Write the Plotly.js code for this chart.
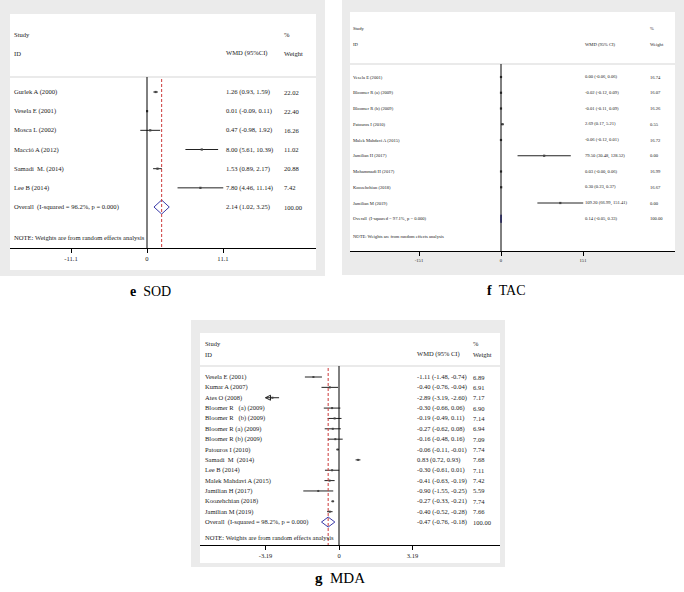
<!DOCTYPE html>
<html><head><meta charset="utf-8">
<script src="https://cdn.plot.ly/plotly-3.0.1.min.js"></script>
<style>html,body{margin:0;padding:0;background:#fff}#chart{width:684px;height:592px}</style>
</head><body><div id="chart"></div>
<script>
// ---------- DATA ----------
// e SOD
const sodStudies = ["Gurlek A (2000)", "Vesela E (2001)", "Mosca L (2002)", "Macció A (2012)", "Samadi  M. (2014)", "Lee B (2014)"];
const sodEst = [1.26, 0.01, 0.47, 8.00, 1.53, 7.80];
const sodLo = [0.93, -0.09, -0.98, 5.61, 0.89, 4.46];
const sodHi = [1.59, 0.11, 1.92, 10.39, 2.17, 11.14];
const sodWeight = ["22.02", "22.40", "16.26", "11.02", "20.88", "7.42"];
const sodOverallLabel = "Overall  (I-squared = 96.2%, p = 0.000)";
const sodOverall = [2.14, 1.02, 3.25];
const sodOverallWeight = "100.00";
const sodTicks = [-11.1, 0, 11.1];
const sodTickLabels = ["-11.1", "0", "11.1"];

// f TAC
const tacStudies = ["Vesela E (2001)", "Bloomer R (a) (2009)", "Bloomer R (b) (2009)", "Patouros I (2010)", "Malek Mahdavi A (2015)", "Jamilian H (2017)", "Mohammadi H (2017)", "Koozehchian (2018)", "Jamilian M (2019)"];
const tacEst = [0.00, -0.02, -0.01, 2.69, -0.06, 79.50, 0.03, 0.30, 109.20];
const tacLo = [-0.06, -0.12, -0.11, 0.17, -0.12, 30.48, -0, 0.23, 66.99];
const tacHi = [0.06, 0.09, 0.09, 5.21, 0.01, 128.52, 0.06, 0.37, 151.41];
const tacWeight = ["16.74", "16.07", "16.26", "0.55", "16.72", "0.00", "16.99", "16.67", "0.00"];
const tacOverallLabel = "Overall  (I-squared = 97.1%, p = 0.000)";
const tacOverall = [0.14, -0.05, 0.33];
const tacOverallWeight = "100.00";
const tacTicks = [-151, 0, 151];
const tacTickLabels = ["-151", "0", "151"];

// g MDA
const mdaStudies = ["Vesela E (2001)", "Kumar A (2007)", "Ates O (2008)", "Bloomer R\u00a0\u00a0\u00a0(a) (2009)", "Bloomer R\u00a0\u00a0\u00a0(b) (2009)", "Bloomer R (a) (2009)", "Bloomer R (b) (2009)", "Patouros I (2010)", "Samadi\u00a0\u00a0M\u00a0\u00a0(2014)", "Lee B (2014)", "Malek Mahdavi A (2015)", "Jamilian H (2017)", "Koozehchian (2018)", "Jamilian M (2019)"];
const mdaEst = [-1.11, -0.40, -2.89, -0.30, -0.19, -0.27, -0.16, -0.06, 0.83, -0.30, -0.41, -0.90, -0.27, -0.40];
const mdaLo = [-1.48, -0.76, -3.19, -0.66, -0.49, -0.62, -0.48, -0.11, 0.72, -0.61, -0.63, -1.55, -0.33, -0.52];
const mdaHi = [-0.74, -0.04, -2.60, 0.06, 0.11, 0.08, 0.16, -0.01, 0.93, 0.01, -0.19, -0.25, -0.21, -0.28];
const mdaWeight = ["6.89", "6.91", "7.17", "6.90", "7.14", "6.94", "7.09", "7.74", "7.68", "7.11", "7.42", "5.59", "7.74", "7.66"];
const mdaOverallLabel = "Overall  (I-squared = 98.2%, p = 0.000)";
const mdaOverall = [-0.47, -0.76, -0.18];
const mdaOverallWeight = "100.00";
const mdaTicks = [-3.19, 0, 3.19];
const mdaTickLabels = ["-3.19", "0", "3.19"];

// ---------- LAYOUT HELPERS ----------
const W = 684, H = 592;
const px = x => x / W;
const py = y => 1 - y / H;
const fmt = v => ((v < 0 || Object.is(v, -0)) ? "-" : "") + Math.abs(v).toFixed(2);
const FONT = "Liberation Serif, Times New Roman, serif";
const TXT = "#1a1a1a";

const panels = [
  {ax: "", letter: "e", name: "SOD", studies: sodStudies, est: sodEst, lo: sodLo, hi: sodHi, wt: sodWeight,
   ovLabel: sodOverallLabel, ov: sodOverall, ovWt: sodOverallWeight, ticks: sodTicks, tickLabels: sodTickLabels,
   wmdHead: "WMD (95%CI)",
   box: [0, 0, 325, 276], white: [10, 14, 316, 270], dom: [10, 316], zero: 147, ppu: 76 / 11.1,
   axisY: 248, top: 14, row0: 92, step: 19.17, studyY: 34, idY: 53, sepY: 77, noteY: 237,
   sx: 13, wx: 225, tx: 283, fs: 6.6, dH: 7, ms: 2.2, ref: true, arrows: false, labX: 150, labY: 291, labFs: 14},
  {ax: "2", letter: "f", name: "TAC", studies: tacStudies, est: tacEst, lo: tacLo, hi: tacHi, wt: tacWeight,
   ovLabel: tacOverallLabel, ov: tacOverall, ovWt: tacOverallWeight, ticks: tacTicks, tickLabels: tacTickLabels,
   wmdHead: "WMD (95% CI)",
   box: [342, 0, 684, 275], white: [350, 12, 675, 251], dom: [350, 675], zero: 501, ppu: 82 / 151,
   axisY: 251, top: 12, row0: 77, step: 15.75, studyY: 28, idY: 44, sepY: 64, noteY: 236,
   sx: 352, wx: 584, tx: 649, fs: 4.6, dH: 4, ms: 2.2, ref: false, arrows: false, labX: 506, labY: 290, labFs: 14},
  {ax: "3", letter: "g", name: "MDA", studies: mdaStudies, est: mdaEst, lo: mdaLo, hi: mdaHi, wt: mdaWeight,
   ovLabel: mdaOverallLabel, ov: mdaOverall, ovWt: mdaOverallWeight, ticks: mdaTicks, tickLabels: mdaTickLabels,
   wmdHead: "WMD (95% CI)",
   box: [191, 320, 505, 567], white: [200, 333, 500, 563], dom: [200, 500], zero: 339, ppu: 73.5 / 3.19,
   axisY: 545, top: 333, row0: 377, step: 10.36, studyY: 343, idY: 354, sepY: 366, noteY: 537,
   sx: 204, wx: 416, tx: 472, fs: 6.5, dH: 5, ms: 2, ref: true, arrows: true, labX: 340, labY: 578, labFs: 15}
];

const data = [], shapes = [], annotations = [];
const layout = {
  width: W, height: H, margin: {l: 0, r: 0, t: 0, b: 0},
  paper_bgcolor: "#fff", plot_bgcolor: "rgba(0,0,0,0)", showlegend: false,
  font: {family: FONT, color: TXT}
};

panels.forEach(p => {
  const xa = "x" + p.ax, ya = "y" + p.ax;
  const n = p.studies.length;
  const rows = p.studies.map((_, i) => p.row0 + i * p.step);
  const ovY = p.row0 + n * p.step;

  // backgrounds
  shapes.push({type: "rect", xref: "paper", yref: "paper", layer: "below",
    x0: px(p.box[0]), x1: px(p.box[2]), y0: py(p.box[3]), y1: py(p.box[1]),
    fillcolor: "#ebebeb", line: {width: 0}});
  shapes.push({type: "rect", xref: "paper", yref: "paper", layer: "below",
    x0: px(p.white[0]), x1: px(p.white[2]), y0: py(p.white[3]), y1: py(p.white[1]),
    fillcolor: "#ffffff", line: {width: 0}});
  // header separator
  shapes.push({type: "line", xref: "paper", yref: ya, x0: px(p.white[0]), x1: px(p.white[2]),
    y0: p.sepY, y1: p.sepY, line: {color: "#d6d6d6", width: 1.2}});
  // overall reference (dashed) line
  if (p.ref) {
    shapes.push({type: "line", xref: xa, yref: ya, x0: p.ov[0], x1: p.ov[0], y0: p.sepY + 2, y1: p.axisY,
      line: {color: "#cc3a3a", width: 1, dash: "3px,2px"}});
  }
  // null line
  shapes.push({type: "line", xref: xa, yref: ya, x0: 0, x1: 0, y0: p.sepY, y1: p.axisY,
    line: {color: "#000", width: 1}});

  // axes
  const xr = [(p.dom[0] - p.zero) / p.ppu, (p.dom[1] - p.zero) / p.ppu];
  layout["xaxis" + p.ax] = {domain: [px(p.dom[0]), px(p.dom[1])], range: xr, anchor: ya,
    showgrid: false, zeroline: false, showline: true, linecolor: "#000", linewidth: 1,
    ticks: "outside", ticklen: 4, tickcolor: "#000", tickwidth: 1,
    tickvals: p.ticks, ticktext: p.tickLabels, tickfont: {family: FONT, size: p.fs, color: TXT}, fixedrange: true};
  layout["yaxis" + p.ax] = {domain: [py(p.axisY), py(p.top)], range: [p.axisY, p.top], anchor: xa,
    visible: false, showgrid: false, zeroline: false, fixedrange: true};

  // study CIs
  data.push({type: "scatter", mode: "markers", xaxis: xa, yaxis: ya, x: p.est, y: rows,
    marker: {symbol: "square", size: p.ms, color: "#444"},
    error_x: {type: "data", symmetric: false, array: p.hi.map((h, i) => h - p.est[i]),
      arrayminus: p.lo.map((l, i) => p.est[i] - l), width: 0, thickness: 1, color: "#222"},
    hoverinfo: "skip", cliponaxis: false});
  // arrows where CI reaches the axis limit
  if (p.arrows) {
    const ax = [], ay = [];
    p.lo.forEach((l, i) => { if (l <= p.ticks[0]) { ax.push(l); ay.push(rows[i]); } });
    data.push({type: "scatter", mode: "markers", xaxis: xa, yaxis: ya, x: ax, y: ay,
      marker: {symbol: "arrow-left-open", size: 5, color: "#222", line: {width: 1, color: "#222"}},
      hoverinfo: "skip", cliponaxis: false});
  }
  // overall diamond
  data.push({type: "scatter", mode: "lines", xaxis: xa, yaxis: ya,
    x: [p.ov[1], p.ov[0], p.ov[2], p.ov[0], p.ov[1]],
    y: [ovY, ovY - p.dH, ovY, ovY + p.dH, ovY],
    fill: "toself", fillcolor: "rgba(0,0,0,0)", line: {color: "#3a3aa8", width: 1},
    hoverinfo: "skip", cliponaxis: false});

  // text
  const ann = (x, y, text, opts) => annotations.push(Object.assign({xref: "paper", yref: ya, x: px(x), y: y,
    text: text, showarrow: false, xanchor: "left", yanchor: "middle", borderpad: 0,
    font: {family: FONT, size: p.fs, color: TXT}}, opts || {}));
  ann(p.sx, p.studyY, "Study");
  ann(p.sx, p.idY, "ID");
  ann(p.wx, p.idY, p.wmdHead);
  ann(p.tx, p.studyY, "%");
  ann(p.tx, p.idY, "Weight");
  p.studies.forEach((s, i) => {
    ann(p.sx, rows[i], s);
    ann(p.wx, rows[i], fmt(p.est[i]) + " (" + fmt(p.lo[i]) + ", " + fmt(p.hi[i]) + ")");
    ann(p.tx, rows[i], p.wt[i]);
  });
  ann(p.sx, ovY, p.ovLabel);
  ann(p.wx, ovY, fmt(p.ov[0]) + " (" + fmt(p.ov[1]) + ", " + fmt(p.ov[2]) + ")");
  ann(p.tx, ovY, p.ovWt);
  ann(p.sx, p.noteY, "NOTE: Weights are from random effects analysis");
  // panel caption
  annotations.push({xref: "paper", yref: "paper", x: px(p.labX), y: py(p.labY), showarrow: false,
    xanchor: "center", yanchor: "middle", text: "<b>" + p.letter + "</b>\u00a0\u00a0" + p.name,
    font: {family: FONT, size: p.labFs, color: "#000"}});
});

layout.shapes = shapes;
layout.annotations = annotations;
Plotly.newPlot("chart", data, layout, {displayModeBar: false, staticPlot: true});
</script>
</body></html>
